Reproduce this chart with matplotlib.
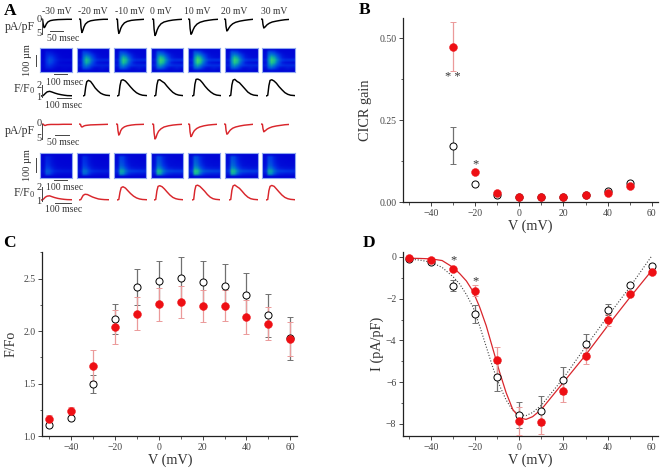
#!/usr/bin/env python3
import matplotlib
matplotlib.use("Agg")
import matplotlib.pyplot as plt
from matplotlib.colors import LinearSegmentedColormap
from matplotlib.lines import Line2D
from matplotlib.ticker import MultipleLocator
import numpy as np

W, H = 661, 471
RED = "#ee0f14"
TRACE_RED = "#d9262c"
DARK = "#333333"
ERR_BLACK = "#707070"
ERR_RED = "#eb9a9a"

plt.rcParams["font.family"] = ["Liberation Serif", "DejaVu Serif"]
plt.rcParams["mathtext.fontset"] = "custom"
plt.rcParams["mathtext.rm"] = "Liberation Serif"
plt.rcParams["mathtext.it"] = "Liberation Serif"

# panel A
VOLT_LABELS = ["-30 mV", "-20 mV", "-10 mV", "0 mV", "10 mV", "20 mV", "30 mV"]

I_TIME = [0, .05, .07, .1, .13, .17, .22, .3, .4, .55, .7, .85, 1]
I_BLACK = [
    [0, -.1, -1.6, -2.9, -2.6, -1.7, -1, -.55, -.35, -.2, -.15, -.1, -.1],
    [0, -.1, -2.8, -4.5, -3.9, -2.7, -1.7, -1, -.6, -.35, -.2, -.1, -.1],
    [0, -.1, -3, -4.8, -4.3, -3.1, -2.2, -1.3, -.8, -.45, -.3, -.2, -.1],
    [0, -.1, -3.4, -5.5, -5, -3.7, -2.6, -1.6, -1, -.6, -.35, -.2, -.1],
    [0, -.1, -3.2, -5.1, -4.7, -3.6, -2.6, -1.7, -1.1, -.65, -.4, -.2, -.1],
    [0, -.1, -2.5, -4, -3.7, -3, -2.3, -1.6, -1.1, -.7, -.45, -.25, -.1],
    [0, -.1, -1.8, -3, -2.8, -2.4, -1.9, -1.4, -1, -.7, -.45, -.25, -.15],
]
I_RED = [
    [0, -.1, -.4, -.5, -.4, -.25, -.2, -.15, -.15, -.15, -.1, -.1, -.1],
    [0, -.1, -.7, -1, -.9, -.65, -.5, -.4, -.3, -.25, -.2, -.15, -.1],
    [0, -.1, -2.2, -3.7, -3.3, -2.2, -1.5, -.95, -.6, -.35, -.2, -.15, -.1],
    [0, -.1, -3, -5, -4.6, -3.4, -2.4, -1.6, -1, -.6, -.35, -.2, -.1],
    [0, -.1, -2.6, -4.2, -3.9, -3, -2.2, -1.5, -1, -.6, -.35, -.2, -.1],
    [0, -.1, -2.1, -3.4, -3.2, -2.6, -2, -1.4, -1, -.65, -.4, -.25, -.1],
    [0, -.1, -1.5, -2.6, -2.4, -2.1, -1.7, -1.3, -.95, -.65, -.45, -.25, -.15],
]

F_TIME = [0, .06, .1, .14, .2, .28, .36, .45, .55, .65, .75, .85, 1]
F_BLACK = [
    [1, 1.02, 1.1, 1.2, 1.32, 1.36, 1.3, 1.22, 1.15, 1.1, 1.06, 1.03, 1.02],
    [1, 1.05, 1.7, 2.1, 2.2, 2.12, 1.9, 1.62, 1.4, 1.22, 1.12, 1.06, 1.03],
    [1, 1.05, 1.8, 2.2, 2.25, 2.15, 1.95, 1.7, 1.45, 1.25, 1.13, 1.06, 1.03],
    [1, 1.05, 1.85, 2.22, 2.25, 2.12, 2, 1.75, 1.5, 1.28, 1.14, 1.07, 1.03],
    [1, 1.05, 1.9, 2.28, 2.3, 2.22, 2.02, 1.75, 1.5, 1.3, 1.15, 1.07, 1.03],
    [1, 1.05, 1.85, 2.22, 2.28, 2.12, 2.02, 1.8, 1.55, 1.3, 1.15, 1.07, 1.03],
    [1, 1.05, 1.8, 2.2, 2.25, 2.15, 1.98, 1.72, 1.48, 1.26, 1.13, 1.06, 1.03],
]
F_RED = [
    [1, 1.03, 1.12, 1.22, 1.3, 1.32, 1.25, 1.18, 1.12, 1.08, 1.05, 1.03, 1.02],
    [1, 1.03, 1.2, 1.36, 1.44, 1.42, 1.33, 1.23, 1.15, 1.08, 1.05, 1.03, 1.02],
    [1, 1.04, 1.6, 1.95, 2.02, 1.92, 1.72, 1.5, 1.3, 1.16, 1.08, 1.04, 1.02],
    [1, 1.04, 1.7, 2.05, 2.1, 2.02, 1.85, 1.62, 1.38, 1.2, 1.1, 1.05, 1.02],
    [1, 1.04, 1.75, 2.1, 2.14, 2.05, 1.88, 1.68, 1.42, 1.22, 1.1, 1.05, 1.02],
    [1, 1.04, 1.75, 2.08, 2.15, 2.02, 1.9, 1.68, 1.42, 1.22, 1.1, 1.05, 1.02],
    [1, 1.04, 1.72, 2.05, 2.12, 2.05, 1.85, 1.62, 1.38, 1.2, 1.1, 1.05, 1.02],
]

HEAT_BLACK = [
    [.02, .02, .03, .03, .03, .02, .02, .02, .02, .02, .02, .02],
    [.03, .05, .30, .28, .22, .12, .06, .04, .03, .03, .03, .03],
    [.04, .07, .40, .50, .42, .28, .16, .08, .05, .04, .04, .03],
    [.04, .08, .52, .78, .66, .42, .24, .12, .08, .06, .05, .05],
    [.10, .14, .60, 1.0, .85, .55, .34, .22, .18, .18, .18, .18],
    [.05, .10, .56, .90, .74, .45, .26, .12, .08, .07, .06, .05],
    [.10, .14, .46, .62, .48, .32, .22, .18, .16, .16, .16, .16],
    [.04, .07, .32, .36, .28, .16, .08, .06, .08, .10, .08, .06],
    [.02, .03, .05, .06, .05, .04, .03, .03, .04, .04, .03, .02],
]
HEAT_RED = [
    [.02, .02, .03, .03, .02, .02, .02, .02, .02, .02, .02, .02],
    [.04, .08, .30, .26, .14, .08, .05, .04, .03, .03, .03, .03],
    [.04, .08, .34, .28, .16, .08, .05, .04, .04, .03, .03, .03],
    [.04, .08, .38, .32, .18, .10, .06, .05, .04, .04, .04, .04],
    [.05, .10, .44, .38, .22, .14, .08, .06, .06, .05, .05, .05],
    [.08, .14, .58, .52, .34, .20, .14, .12, .10, .10, .09, .09],
    [.14, .22, .85, .78, .52, .36, .30, .28, .26, .24, .24, .22],
    [.08, .12, .72, .65, .38, .22, .16, .14, .12, .12, .12, .10],
    [.02, .02, .05, .05, .04, .03, .02, .02, .02, .02, .02, .02],
]
HEAT_AMP_BLACK = [.3, .75, .85, .95, 1, .92, .92]
HEAT_AMP_RED = [.4, .5, .78, .88, 1, .92, .78]

# panels B, C, D
V_B = [-30, -20, -10, 0, 10, 20, 30, 40, 50]
GAIN_BLACK = [.173, .056, .022, .017, .015, .017, .022, .035, .059]
GAIN_BLACK_ERR = [.056, 0, 0, 0, 0, 0, 0, 0, 0]
GAIN_RED = [.475, .0935, .028, .017, .015, .017, .021, .029, .049]
GAIN_RED_ERR = [.075, 0, 0, 0, 0, 0, 0, 0, 0]

V_CD = [-50, -40, -30, -20, -10, 0, 10, 20, 30, 40, 50, 60]
FF0_BLACK = [1.108, 1.171, 1.495, 2.116, 2.424, 2.475, 2.506, 2.465, 2.433, 2.345, 2.151, 1.932]
FF0_BLACK_ERR = [.02, .02, .085, .14, .172, .194, .205, .204, .203, .205, .202, .206]
FF0_RED = [1.165, 1.238, 1.672, 2.04, 2.167, 2.256, 2.28, 2.237, 2.243, 2.135, 2.072, 1.923]
FF0_RED_ERR = [.035, .045, .15, .163, .158, .155, .15, .153, .145, .162, .156, .163]

I_PTS_BLACK = [-.1, -.22, -1.37, -2.72, -5.75, -7.57, -7.36, -5.91, -4.15, -2.52, -1.36, -.43]
I_PTS_BLACK_ERR = [.06, .08, .28, .42, .65, .62, .68, .63, .45, .25, .1, .1]
I_PTS_RED = [-.05, -.13, -.59, -1.61, -4.95, -7.86, -7.89, -6.41, -4.74, -3.02, -1.76, -.72]
I_PTS_RED_ERR = [.05, .06, .1, .25, .65, .65, .6, .55, .4, .3, .12, .1]

FIT_V = [-50, -45, -40, -35, -30, -27, -24, -21, -18, -15, -12, -9, -6, -3, 0, 3, 6, 10, 20, 30, 40, 50, 60]
FIT_BLACK = [-.1, -.15, -.25, -.5, -.95, -1.3, -1.8, -2.4, -3.3, -4.3, -5.3, -6.15, -6.85, -7.35, -7.55, -7.6, -7.45, -7.1, -5.8, -4.3, -2.85, -1.45, .05]
FIT_RED = [-.06, -.07, -.09, -.17, -.5, -.8, -1.15, -1.65, -2.4, -3.3, -4.4, -5.5, -6.5, -7.3, -7.7, -7.78, -7.65, -7.3, -6, -4.7, -3.3, -1.95, -.65]

fig = plt.figure(figsize=(W / 100, H / 100), dpi=100, facecolor="white")


def px_axes(left, top, right, bottom):
    ax = fig.add_axes([left / W, 1 - bottom / H, (right - left) / W, (bottom - top) / H])
    ax.patch.set_alpha(0)
    return ax


def px_text(x, y, s, **kw):
    kw.setdefault("color", DARK)
    kw.setdefault("ha", "center")
    kw.setdefault("va", "center")
    fig.text(x / W, 1 - y / H, s, **kw)


def px_line(x0, y0, x1, y1, color="#444444", lw=0.7):
    fig.add_artist(Line2D([x0 / W, x1 / W], [1 - y0 / H, 1 - y1 / H], color=color, lw=lw))


def draw_trace(box, t, y, ylim, color):
    ax = px_axes(*box)
    ax.plot(t, y, color=color, lw=1.05, solid_joinstyle="round")
    ax.set_xlim(0, 1)
    ax.set_ylim(*ylim)
    ax.axis("off")


heat_cmap = LinearSegmentedColormap.from_list("heat", [
    (0, "#0000d4"), (.2, "#0038e8"), (.5, "#0088c8"), (.75, "#18c090"), (1, "#40d870")])

I_X_BLACK = [(41, 72), (79, 108), (116, 144), (152, 182), (188, 218), (224, 253), (261, 289)]
I_X_RED = [(42, 72), (79, 108), (116, 144), (152, 182), (188, 217), (224, 253), (261, 289)]
F_X_BLACK = [(41, 72), (83, 110), (117, 147), (154, 183), (192, 221), (229, 258), (266, 295)]
F_X_RED = [(41, 72), (79, 109), (117, 147), (154, 183), (192, 220), (229, 258), (266, 295)]
HEAT_X = [(40, 72), (77, 109), (114, 146), (151, 183), (188, 220), (225, 258), (262, 295)]


def draw_row(i_x, i_data, i_zero, heat_y, heat, amps, f_x, f_data, f_base, color):
    for k in range(7):
        draw_trace((i_x[k][0], i_zero - 3, i_x[k][1], i_zero + 21), I_TIME, i_data[k],
                   (-7, 1), color)
        l, r = HEAT_X[k]
        ax = px_axes(l, heat_y[0], r, heat_y[1])
        ax.imshow(np.clip(np.array(heat) * amps[k], 0, 1), cmap=heat_cmap, vmin=0, vmax=1,
                  aspect="auto", interpolation="bilinear")
        ax.set_xticks([])
        ax.set_yticks([])
        for s in ax.spines.values():
            s.set_color("#8fa8f0")
            s.set_linewidth(0.8)
        draw_trace((f_x[k][0], f_base - 18, f_x[k][1], f_base + 2), F_TIME, f_data[k],
                   (1 - 2 / 13, 1 + 18 / 13), color)


draw_row(I_X_BLACK, I_BLACK, 19, (47.7, 71.7), HEAT_BLACK, HEAT_AMP_BLACK, F_X_BLACK, F_BLACK, 96, "black")
draw_row(I_X_RED, I_RED, 124, (153.3, 177.7), HEAT_RED, HEAT_AMP_RED, F_X_RED, F_RED, 200, TRACE_RED)

for lab, x in zip(VOLT_LABELS, [57, 93, 130, 161, 197, 234, 274]):
    px_text(x, 12, lab, fontsize=6.9)

# black row labels and scale bars
px_text(35, 27, "pA/pF", fontsize=8.5, ha="right")
px_text(39, 19, "0", fontsize=7.5)
px_text(39, 34, "5", fontsize=7.5)
px_line(42, 19, 42, 34)
px_line(50, 31, 63, 31)
px_text(63.5, 38.5, "50 msec", fontsize=7)
px_text(28, 60, "100 µm", fontsize=7.5, rotation=90)
px_line(36, 55, 36, 66)
px_line(54, 74, 67, 74)
px_text(65, 82.5, "100 msec", fontsize=7)
px_text(35, 89, "F/F$_0$", fontsize=8.5, ha="right")
px_text(39, 85, "2", fontsize=7.5)
px_text(39, 98, "1", fontsize=7.5)
px_line(42, 85, 42, 97)
px_line(57, 98, 71, 98)
px_text(64, 105.5, "100 msec", fontsize=7)

# red row labels and scale bars
px_text(35, 131, "pA/pF", fontsize=8.5, ha="right")
px_text(39, 123, "0", fontsize=7.5)
px_text(39, 139, "5", fontsize=7.5)
px_line(42, 124, 42, 139)
px_line(55, 135, 69, 135)
px_text(63.5, 142.5, "50 msec", fontsize=7)
px_text(28, 165, "100 µm", fontsize=7.5, rotation=90)
px_line(36, 158, 36, 172)
px_line(54, 180, 67, 180)
px_text(65, 187.5, "100 msec", fontsize=7)
px_text(35, 193, "F/F$_0$", fontsize=8.5, ha="right")
px_text(39, 187, "2", fontsize=7.5)
px_text(39, 202, "1", fontsize=7.5)
px_line(42, 187, 42, 201)
px_line(55, 203, 71, 203)
px_text(64, 210, "100 msec", fontsize=7)


def style_axes(ax, xlim, ylim, ymajor, yminor, ylabel, yfmt, ylabel_size=10.3, pad=4):
    ax.set_xlim(*xlim)
    ax.set_ylim(*ylim)
    ax.spines["top"].set_visible(False)
    ax.spines["right"].set_visible(False)
    for s in ("left", "bottom"):
        ax.spines[s].set_linewidth(0.9)
        ax.spines[s].set_color("#222222")
    ax.xaxis.set_major_locator(MultipleLocator(20))
    ax.xaxis.set_minor_locator(MultipleLocator(10))
    ax.yaxis.set_major_locator(MultipleLocator(ymajor))
    ax.yaxis.set_minor_locator(MultipleLocator(yminor))
    ax.yaxis.set_major_formatter(yfmt)
    ax.tick_params(which="major", length=3, width=0.7, labelsize=7, colors="#444444", pad=2)
    ax.tick_params(which="minor", length=1.8, width=0.6, colors="#444444")
    ax.set_xlabel("V (mV)", fontsize=10.3, color=DARK, labelpad=1)
    ax.set_ylabel(ylabel, fontsize=ylabel_size, color=DARK, labelpad=pad)


def draw_points(ax, v, black, black_err, red, red_err):
    ax.errorbar(v, black, yerr=black_err, fmt="none", ecolor=ERR_BLACK, elinewidth=0.9,
                capsize=2, capthick=0.7, zorder=2)
    ax.errorbar(v, red, yerr=red_err, fmt="none", ecolor=ERR_RED, elinewidth=0.9,
                capsize=2, capthick=0.7, zorder=3)
    ax.plot(v, black, "o", mfc="white", mec="black", mew=0.7, ms=5.1, zorder=4)
    ax.plot(v, red, "o", mfc=RED, mec=RED, mew=0.3, ms=5.7, zorder=5)


# panel B
ax_b = px_axes(403.3, 18, 657.7, 202.3)
style_axes(ax_b, (-52.6, 62.7), (0, .562), .25, .125, "CICR gain", "{x:.2f}", pad=5)
ax_b.errorbar(V_B[:1], GAIN_RED[:1], yerr=GAIN_RED_ERR[:1], fmt="none", ecolor=ERR_RED,
              elinewidth=0.9, capsize=2, capthick=0.7, zorder=3)
ax_b.errorbar(V_B[:1], GAIN_BLACK[:1], yerr=GAIN_BLACK_ERR[:1], fmt="none", ecolor=ERR_BLACK,
              elinewidth=0.9, capsize=2, capthick=0.7, zorder=2)
ax_b.plot(V_B, GAIN_BLACK, "o", mfc="white", mec="black", mew=0.7, ms=5.1, zorder=4, clip_on=False)
ax_b.plot(V_B, GAIN_RED, "o", mfc=RED, mec=RED, mew=0.3, ms=5.7, zorder=5, clip_on=False)
ax_b.text(-30, .381, "* *", ha="center", va="center", fontsize=9, color=DARK)
ax_b.text(-20, .116, "*", ha="center", va="center", fontsize=9, color=DARK)

# panel C
ax_c = px_axes(42.3, 252.3, 297.3, 436.3)
style_axes(ax_c, (-53.1, 63.2), (1, 2.751), .5, .25, "F/Fo", "{x:.1f}", ylabel_size=10)
draw_points(ax_c, V_CD, FF0_BLACK, FF0_BLACK_ERR, FF0_RED, FF0_RED_ERR)

# panel D
ax_d = px_axes(403.3, 252.3, 657.7, 436.3)
style_axes(ax_d, (-52.6, 62.7), (-8.59, .225), 2, 1, "I (pA/pF)", "{x:.0f}", pad=1)
ax_d.plot(FIT_V, FIT_BLACK, color="#444444", lw=0.8, ls=(0, (1, 1.6)), zorder=1)
ax_d.plot(FIT_V, FIT_RED, color=TRACE_RED, lw=0.9, zorder=1)
draw_points(ax_d, V_CD, I_PTS_BLACK, I_PTS_BLACK_ERR, I_PTS_RED, I_PTS_RED_ERR)
ax_d.text(-30, -.17, "*", ha="center", va="center", fontsize=9, color=DARK)
ax_d.text(-20, -1.17, "*", ha="center", va="center", fontsize=9, color=DARK)

px_text(10, 11, "A", fontsize=12.5, fontweight="bold", color="black")
px_text(365, 10, "B", fontsize=12.5, fontweight="bold", color="black")
px_text(9, 243, "C", fontsize=12.5, fontweight="bold", color="black")
px_text(369, 243, "D", fontsize=12.5, fontweight="bold", color="black")

fig.savefig("out.png", dpi=100)
